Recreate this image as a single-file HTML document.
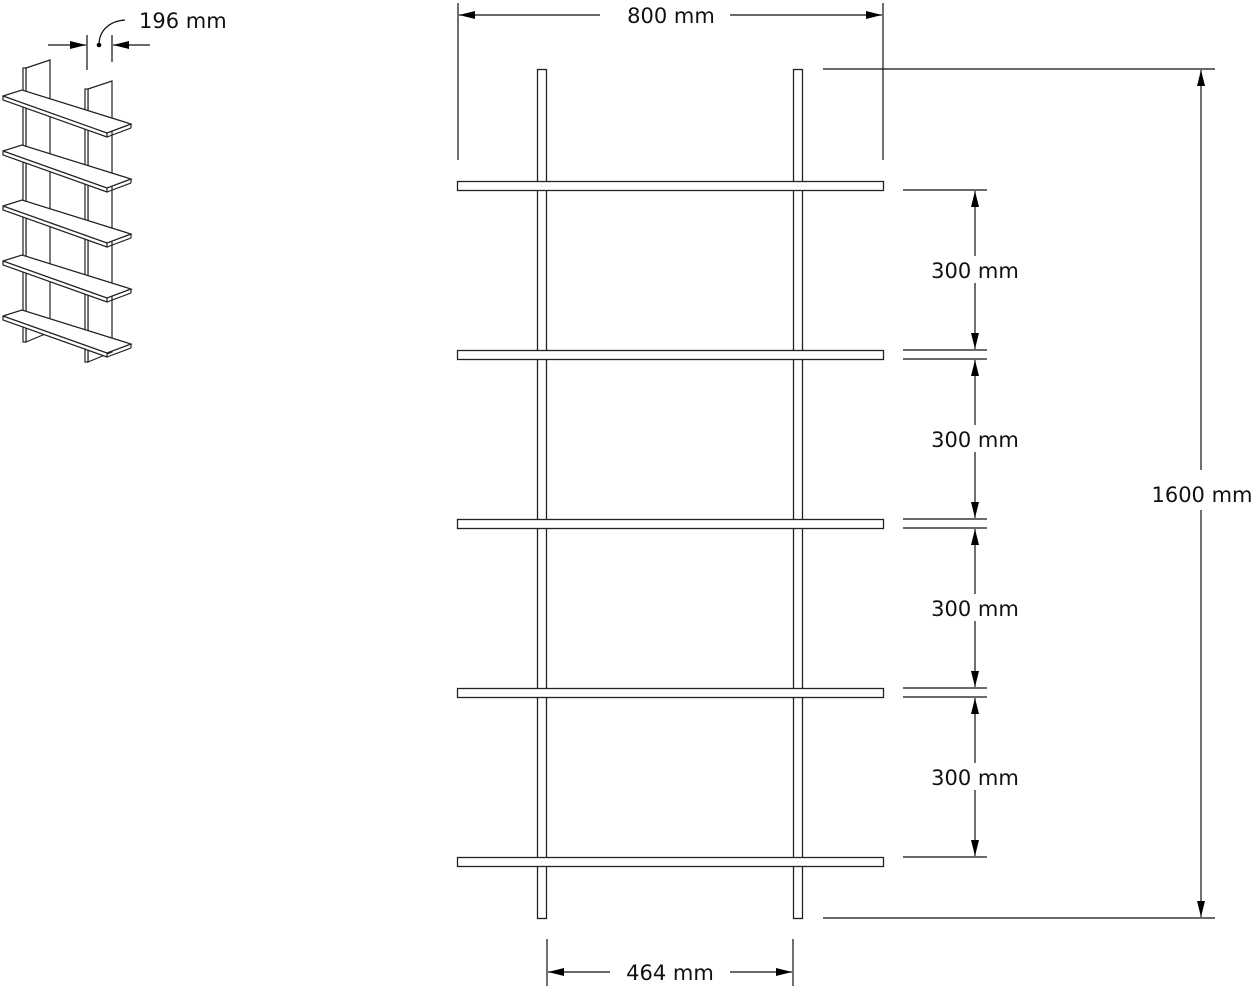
<!DOCTYPE html>
<html><head><meta charset="utf-8"><style>
html,body{margin:0;padding:0;background:#fff;}
svg{display:block;}
text{font-family:"DejaVu Sans","Liberation Sans",sans-serif;font-size:21px;fill:#111;}
</style></head><body>
<svg width="1255" height="986" viewBox="0 0 1255 986" xmlns="http://www.w3.org/2000/svg">
<defs>
<marker id="a" viewBox="0 0 16 8" refX="16" refY="4" markerWidth="16" markerHeight="8" markerUnits="userSpaceOnUse" orient="auto"><path d="M0,0 L16,4 L0,8 Z" fill="#000"/></marker>
</defs>
<g stroke="#222" stroke-width="1.2" fill="#fff">
<!-- small isometric shelf -->
<polygon points="26,68 50,60 50,332 26,342"/>
<rect x="23" y="68" width="3" height="274"/>
<polygon points="88,89 112,81 112,352 88,362"/>
<rect x="85" y="89" width="3" height="273"/>
<g id="sh">
<polygon points="3,96 22,90 131,124 107,133 107,137 3,100"/>
<line x1="3" y1="96" x2="107" y2="133"/>
<line x1="107" y1="133" x2="131" y2="124"/>
<line x1="131" y1="124" x2="131" y2="128"/>
<line x1="131" y1="128" x2="107" y2="137"/>
</g>
<use href="#sh" y="55"/><use href="#sh" y="110"/><use href="#sh" y="165"/><use href="#sh" y="220"/>
</g>
<g stroke="#111" stroke-width="1.2" fill="none">
<line x1="87" y1="35" x2="87" y2="70"/><line x1="112" y1="35" x2="112" y2="62"/>
<line x1="48" y1="45" x2="86" y2="45" marker-end="url(#a)"/>
<line x1="150" y1="45" x2="113" y2="45" marker-end="url(#a)"/>
<path d="M99,45 C99,30 110,21 125,20"/>
</g>
<circle cx="99" cy="45" r="2.3" fill="#000"/>
<text x="139" y="28">196 mm</text>

<!-- front view -->
<g stroke="#222" stroke-width="1.3" fill="#fff">
<rect x="537.5" y="69.5" width="9" height="849"/>
<rect x="793.5" y="69.5" width="9" height="849"/>
<rect x="457.5" y="181.5" width="426" height="9"/>
<rect x="457.5" y="350.5" width="426" height="9"/>
<rect x="457.5" y="519.5" width="426" height="9"/>
<rect x="457.5" y="688.5" width="426" height="9"/>
<rect x="457.5" y="857.5" width="426" height="9"/>
</g>
<g stroke="#111" stroke-width="1.2" fill="none">
<line x1="458" y1="3" x2="458" y2="160"/><line x1="883" y1="3" x2="883" y2="160"/>
<line x1="600" y1="15" x2="459" y2="15" marker-end="url(#a)"/>
<line x1="730" y1="15" x2="882" y2="15" marker-end="url(#a)"/>
<line x1="823" y1="69" x2="1215" y2="69"/><line x1="823" y1="918" x2="1215" y2="918"/>
<line x1="1201" y1="470" x2="1201" y2="70" marker-end="url(#a)"/>
<line x1="1201" y1="510" x2="1201" y2="917" marker-end="url(#a)"/>
<line x1="547" y1="939" x2="547" y2="986"/><line x1="793" y1="939" x2="793" y2="986"/>
<line x1="610" y1="972" x2="548" y2="972" marker-end="url(#a)"/>
<line x1="730" y1="972" x2="792" y2="972" marker-end="url(#a)"/>
<line x1="903" y1="190" x2="987" y2="190"/>
<line x1="903" y1="350" x2="987" y2="350"/><line x1="903" y1="359" x2="987" y2="359"/>
<line x1="903" y1="519" x2="987" y2="519"/><line x1="903" y1="528" x2="987" y2="528"/>
<line x1="903" y1="688" x2="987" y2="688"/><line x1="903" y1="697" x2="987" y2="697"/>
<line x1="903" y1="857" x2="987" y2="857"/>
<line x1="975" y1="256" x2="975" y2="191" marker-end="url(#a)"/><line x1="975" y1="283" x2="975" y2="349" marker-end="url(#a)"/>
<line x1="975" y1="425" x2="975" y2="360" marker-end="url(#a)"/><line x1="975" y1="452" x2="975" y2="518" marker-end="url(#a)"/>
<line x1="975" y1="594" x2="975" y2="529" marker-end="url(#a)"/><line x1="975" y1="621" x2="975" y2="687" marker-end="url(#a)"/>
<line x1="975" y1="763" x2="975" y2="698" marker-end="url(#a)"/><line x1="975" y1="790" x2="975" y2="856" marker-end="url(#a)"/>
</g>
<text x="671" y="23" text-anchor="middle">800 mm</text>
<text x="1202" y="502" text-anchor="middle">1600 mm</text>
<text x="670" y="980" text-anchor="middle">464 mm</text>
<text x="975" y="278" text-anchor="middle">300 mm</text>
<text x="975" y="447" text-anchor="middle">300 mm</text>
<text x="975" y="616" text-anchor="middle">300 mm</text>
<text x="975" y="785" text-anchor="middle">300 mm</text>
</svg>
</body></html>
